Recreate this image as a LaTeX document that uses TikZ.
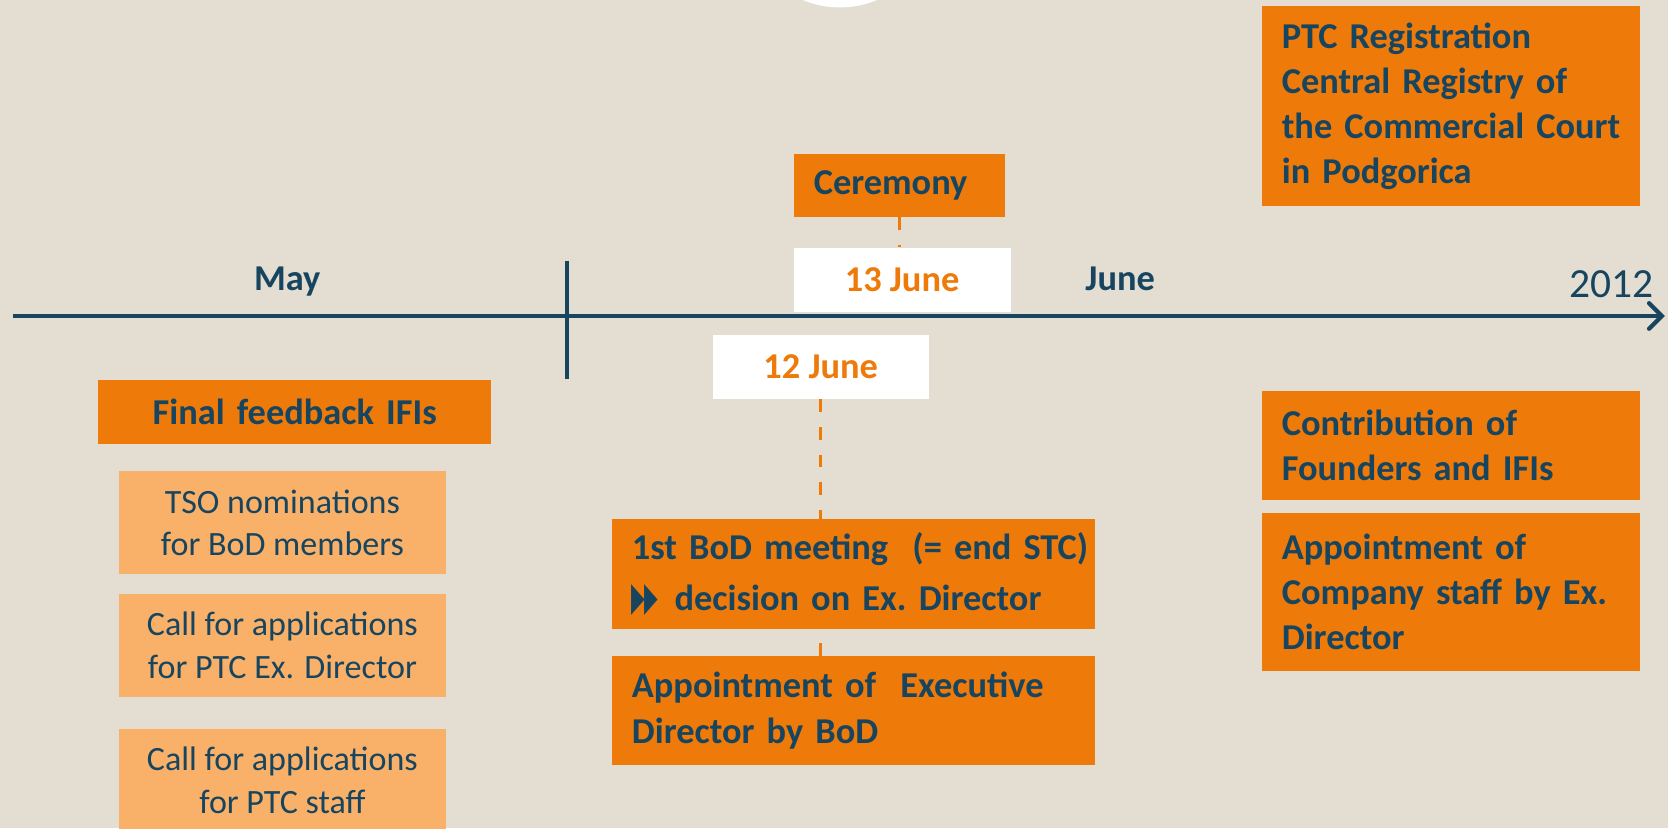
\documentclass[tikz,border=0pt]{standalone}
\usepackage{fontspec}
\setmainfont{Carlito}
\newfontfamily\symfont{DejaVu Sans}
\usepackage{graphicx}
\usetikzlibrary{arrows.meta}
\definecolor{bgc}{RGB}{227,221,210}
\definecolor{dkblue}{RGB}{23,69,95}
\definecolor{orng}{RGB}{238,122,10}
\definecolor{lorng}{RGB}{249,177,105}
\begin{document}
\begin{tikzpicture}[x=0.5pt,y=-0.5pt,
  every node/.append style={execute at begin node={\hyphenpenalty=10000\exhyphenpenalty=10000\hbadness=10000\hfuzz=20pt}},
  boldtxt/.style={font=\bfseries\fontsize{17.1}{22}\selectfont, text=dkblue},
  obox/.style={fill=orng, boldtxt, inner xsep=9.5pt, inner ysep=0pt, align=left},
  rbox/.style={obox, text width=159pt, font=\bfseries\fontsize{17.1}{21.2}\selectfont},
  lbox/.style={fill=lorng, text=dkblue, font=\fontsize{16}{20}\selectfont, align=center,
    inner sep=0pt, minimum width=153.5pt},
  wbox/.style={fill=white, text=orng, font=\bfseries\fontsize{17.1}{22}\selectfont, inner sep=0pt},
  dashline/.style={orng, line width=1.5pt, dash pattern=on 6pt off 7pt},
  axisline/.style={dkblue, line width=2pt}
]
\clip (0,0) rectangle (1568,778.4);
\fill[bgc] (0,0) rectangle (1568,778.4);

% white circle at top
\fill[white] (789.5,-83) circle[radius=45pt];

% axis
\coordinate (axs) at (12,297);
\coordinate (axe) at (1565,297);
\draw[axisline, -{Straight Barb[length=6pt,width=12pt,line cap=round]}] (axs) -- (axe);
\coordinate (tt) at (533,245);
\coordinate (tb) at (533,356);
\draw[axisline] (tt) -- (tb);

% axis labels
\node[boldtxt, anchor=base] (may) at (270,273) {May};
\node[boldtxt, anchor=base] (jun) at (1053,273) {June};
\node[text=dkblue, font=\fontsize{19.5}{24}\selectfont, anchor=base] (yr) at (1515,280) {2012};

% centre column
\node[obox, text width=80.5pt, minimum height=29.5pt] (cer) at (845.5,174.5) {Ceremony};
\node[wbox, minimum width=102pt, minimum height=30pt] (j13) at (848,263) {13 June};
\node[wbox, minimum width=101.5pt, minimum height=30pt] (j12) at (771.5,345) {12 June};
\node[obox, text width=208pt, minimum height=51.5pt] (bod) at (802,539.5)
  {1st~BoD~meeting~~(=~end~STC)\\\kern2pt{\symfont\fontsize{19}{19}\selectfont\scalebox{0.44}[1]{▶}\kern-0.5pt\scalebox{0.44}[1]{▶}}\kern2pt~decision~on~Ex.~Director};
\node[obox, text width=208pt, minimum height=51pt] (appt) at (802,668)
  {Appointment~of~~Executive\\Director~by~BoD};

\draw[dashline] (cer.south) -- (cer.south |- j13.north);
\draw[dashline] (j12.south) -- (j12.south |- bod.north);
\draw[dashline] (j12.south |- appt.north) -- (j12.south |- bod.south);

% left column
\node[obox, align=center, text width=166pt, minimum height=30pt] (ffb) at (277,387) {Final~feedback~IFIs};
\node[lbox, minimum height=48.5pt] (tso) at (265.5,491.5) {TSO nominations\\for BoD members};
\node[lbox, minimum height=48.5pt] (cdir) at (265.5,606.5) {Call for applications\\for PTC Ex. Director};
\node[lbox, minimum height=48.5pt] (cstaff) at (265.5,733.5) {Call for applications\\for PTC staff};

% right column
\node[rbox, minimum height=94pt] (reg) at (1364,100)
  {PTC~Registration\\Central~Registry~of\\the~Commercial~Court\\in~Podgorica};
\node[rbox, minimum height=51pt] (contrib) at (1364,419)
  {Contribution~of\\Founders~and~IFIs};
\node[rbox, minimum height=74.5pt] (cstf) at (1364,556.5)
  {Appointment~of\\Company~staff~by~Ex.\\Director};
\end{tikzpicture}
\end{document}
